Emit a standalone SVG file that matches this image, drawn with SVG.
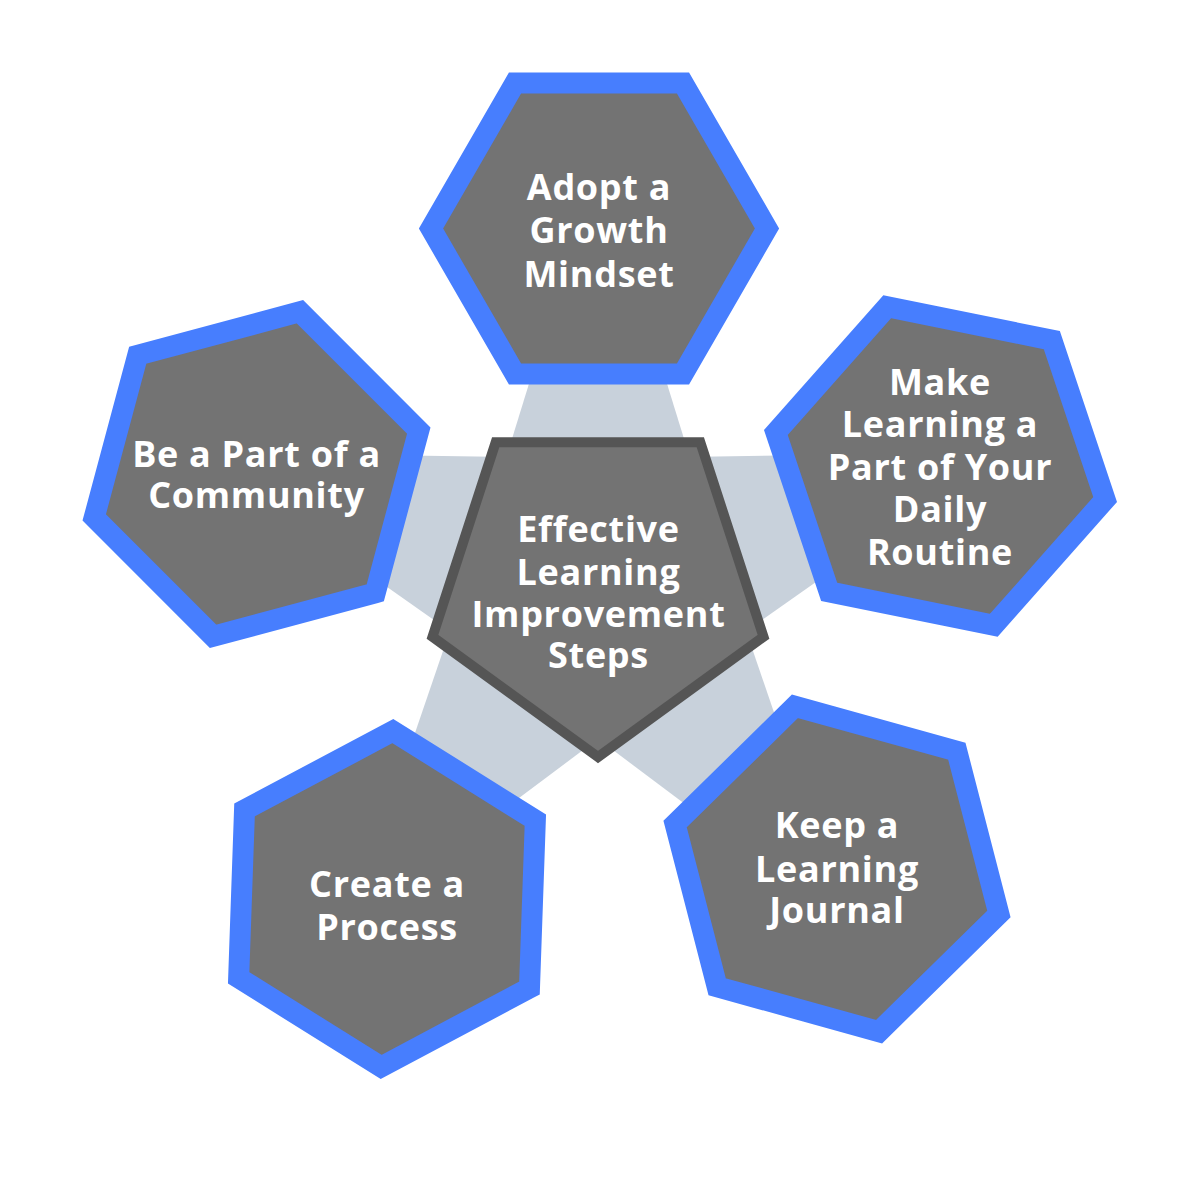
<svg xmlns="http://www.w3.org/2000/svg" xmlns:xlink="http://www.w3.org/1999/xlink" width="1200" height="1200" viewBox="0 0 1200 1200">
  <defs>
    <style>
      .hex { fill: #737373; stroke: #477EFE; stroke-width: 21; stroke-linejoin: miter; }
      .pent { fill: #737373; stroke: #555555; stroke-width: 10; stroke-linejoin: miter; }
      .band { fill: #C8D1DB; }
      .lbl { fill: #FFFFFF; font-family: "Open Sans", "Noto Sans", "Liberation Sans", sans-serif; font-weight: 700; font-size: 36px; letter-spacing: 0.7px; text-anchor: middle; }
    </style>
    <polygon id="hexShape" points="168,0 84,145.5 -84,145.5 -168,0 -84,-145.5 84,-145.5"/>
    <polygon id="bandShape" points="-112,-60 112,-60 58,-235 -58,-235"/>
  </defs>
  <rect width="1200" height="1200" fill="#FFFFFF"/>

  <g id="connectors">
    <use xlink:href="#bandShape" href="#bandShape" class="band" transform="translate(598 583)"/>
    <use xlink:href="#bandShape" href="#bandShape" class="band" transform="translate(598 583) rotate(72)"/>
    <use xlink:href="#bandShape" href="#bandShape" class="band" transform="translate(598 583) rotate(144)"/>
    <use xlink:href="#bandShape" href="#bandShape" class="band" transform="translate(598 583) rotate(216)"/>
    <use xlink:href="#bandShape" href="#bandShape" class="band" transform="translate(598 583) rotate(288)"/>
  </g>

  <g id="node-growth">
    <use xlink:href="#hexShape" href="#hexShape" class="hex" transform="translate(599 228.5)"/>
    <text class="lbl" x="599" y="200">Adopt a</text>
    <text class="lbl" x="599" y="243">Growth</text>
    <text class="lbl" x="599" y="287">Mindset</text>
  </g>

  <g id="node-routine">
    <use xlink:href="#hexShape" href="#hexShape" class="hex" transform="translate(940.5 466) rotate(11.5)"/>
    <text class="lbl" x="940" y="395">Make</text>
    <text class="lbl" x="940" y="437">Learning a</text>
    <text class="lbl" x="940" y="480">Part of Your</text>
    <text class="lbl" x="940" y="522">Daily</text>
    <text class="lbl" x="940" y="565">Routine</text>
  </g>

  <g id="node-journal">
    <use xlink:href="#hexShape" href="#hexShape" class="hex" transform="translate(837 869) rotate(15.5)"/>
    <text class="lbl" x="837" y="838">Keep a</text>
    <text class="lbl" x="837" y="882">Learning</text>
    <text class="lbl" x="837" y="923">Journal</text>
  </g>

  <g id="node-process">
    <use xlink:href="#hexShape" href="#hexShape" class="hex" transform="translate(387 899) rotate(32)"/>
    <text class="lbl" x="387" y="897">Create a</text>
    <text class="lbl" x="387" y="940">Process</text>
  </g>

  <g id="node-community">
    <use xlink:href="#hexShape" href="#hexShape" class="hex" transform="translate(256.5 474) rotate(45)"/>
    <text class="lbl" x="256.5" y="467">Be a Part of a</text>
    <text class="lbl" x="256.5" y="508">Community</text>
  </g>

  <g id="node-center">
    <polygon class="pent" points="598,757 432.5,636.8 495.7,442.2 700.3,442.2 763.5,636.8"/>
    <text class="lbl" x="598.5" y="542">Effective</text>
    <text class="lbl" x="598.5" y="585">Learning</text>
    <text class="lbl" x="598.5" y="627">Improvement</text>
    <text class="lbl" x="598.5" y="668">Steps</text>
  </g>
</svg>
